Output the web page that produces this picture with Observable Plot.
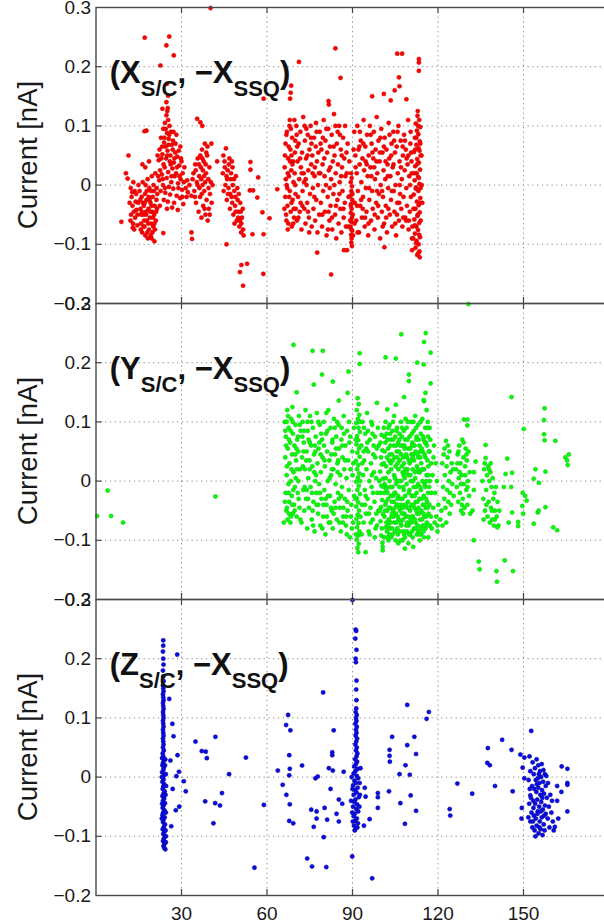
<!DOCTYPE html>
<html><head><meta charset="utf-8">
<script src="https://cdn.jsdelivr.net/npm/d3@7"></script>
<script src="https://cdn.jsdelivr.net/npm/@observablehq/plot@0.6"></script>
<style>
html,body{margin:0;padding:0;background:#fff;overflow:hidden;}
#wrap{position:relative;width:604px;height:923px;overflow:hidden;}
#wrap svg{position:absolute;left:0;}
</style></head><body><div id="wrap"></div>
<script>
const xTicks=[30,60,90,120,150];
const yTicks=[-0.2,-0.1,0,0.1,0.2,0.3];
const gridY=[-0.1,0,0.1,0.2];
const panelVars=["X","Y","Z"];
const yLabel="Current [nA]";

const redPts=[
[8.9,-.062],[10.5,.02],[11.4,.05],[11.1,.011],[12.2,-.005],[12.5,-.02],[12.8,-.035],[12.3,-.05],[13,-.065],[13.4,-.075],[13.1,.005],[13.6,-.01],[13.9,-.028],[14.2,-.042],[13.7,-.055],[14.5,-.068],[14.8,-.03],[12.7,-.012],[13.3,-.045],[14.1,-.015],[12.9,-.072],[14.6,-.05],[11.8,-.03],[12.1,-.06],
[15.3,-.01],[15.6,-.04],[15.8,-.065],[16,-.02],[16.2,-.08],[16.4,.005],[16.6,-.05],[16.8,-.035],[17,-.07],[17.2,-.015],[17.3,-.085],[17.5,-.045],[17.7,-.025],[17.9,-.06],[18.1,.01],[18.2,-.09],[18.4,-.04],[18.6,-.075],[18.7,-.005],[18.9,-.055],[19.1,-.03],[19.2,-.085],[19.4,-.065],[19.6,.015],[19.7,-.045],[19.9,-.02],[20.1,-.07],[20.3,-.01],[20.4,-.05],[20.6,-.035],[20.8,.02],[21,-.06],[21.2,-.025],[21.4,-.04],[15.9,-.05],[16.9,-.06],[17.8,-.01],[18.8,-.025],[19.8,-.08],[20.7,-.075],[16.5,-.03],[17.4,0],[18.3,-.065],[19.3,-.01],[20.2,0],[15.5,-.025],[16.7,-.07],[17.6,-.05],[18.5,-.02],[19.5,-.035],[20.5,-.065],[21.3,-.005],[16.1,-.045],[17.1,-.03],[18,-.08],[19,-.045],[20,-.055],[21.1,-.045],[15.7,-.075],[21.5,-.015],[17.3,.03],[16.3,.035],[18.6,.04],[14.9,0],[20.5,-.095],[19.5,-.09],
[24.7,.118],[25.3,.11],[24.2,.105],[25.8,.1],[23.6,.095],[26.3,.09],[24.9,.088],[22.8,.08],[25.5,.078],[27,.075],[23.9,.072],[26.6,.068],[24.4,.065],[22.3,.06],[25.1,.058],[27.8,.055],[23.3,.052],[26.1,.05],[28.5,.048],[24.6,.045],[22,.042],[25.9,.04],[27.3,.038],[23.7,.035],[29.2,.033],[24.1,.03],[26.8,.028],[22.5,.025],[25.3,.022],[28.1,.02],[23.1,.018],[27.6,.015],[24.8,.012],[29.7,.01],[22.2,.008],[26.4,.005],[28.8,.003],[23.5,0],[25.6,-.003],[27.1,-.006],[30.2,-.008],[22.7,-.01],[24.3,-.013],[26,-.016],[28.3,-.018],[29.5,-.022],[23.8,-.025],[25.2,-.028],[27.4,-.03],[30.6,-.032],[22.4,-.035],[24.9,-.04],[26.7,-.038],[28.7,-.042],
[23.2,.065],[24,.08],[25.7,.085],[26.9,.06],[27.9,.07],[28.4,.03],[29,.058],[29.8,.045],[30.4,.02],[30.8,.005],[31,.03],[22.9,.045],[24.5,.095],[25.4,.068],[26.2,.035],[27.5,.045],[28.9,-.005],[29.3,.015],[30,.04],[23.4,.01],[24.2,-.005],[25,.05],[26.5,.015],[27.2,.09],[28.2,.085],[29.6,.065],[30.3,-.02],[21.8,.015],[21.6,.05],[25,.125],[25.2,.13],
[17.1,.249],[25.7,.251],[24.7,.236],[27.3,.219],[22.6,.202],[24.9,.171],[25.3,.151],[24.7,.14],[23.3,.129],[17.7,.092],[17,.091],[23.6,-.081],[33.5,-.08],[33.7,-.091],
[31.5,-.005],[32.2,-.012],[32.8,0],[33.4,-.018],[32,.008],[33.9,.01],[31.8,-.02],
[34.2,.02],[34.5,-.01],[34.8,.035],[35.1,-.03],[35.4,.005],[35.7,.045],[36,-.045],[36.2,.015],[36.5,-.02],[36.8,.03],[37,-.055],[37.2,.06],[37.4,0],[37.6,-.035],[37.8,.04],[38,-.01],[38.2,.07],[38.4,-.05],[38.6,.02],[38.8,-.025],[39,.05],[39.2,-.06],[39.4,.01],[39.6,-.04],[39.8,.03],[40,-.015],[40.3,.005],[40.6,-.03],[35,.025],[36.3,-.005],[37.5,.025],[38.5,.035],[39.5,-.005],[36.9,.01],[38.1,-.04],[35.6,0],[37.1,-.015],[39.1,.065],[38.7,.055],[37.9,.015],[36.6,.05],[34.7,-.02],[40.9,0],[39.9,-.05],[38.3,.005],[37.3,.045],[36.1,.035],
[35.5,.112],[36.6,.106],[37.3,.1],[40.5,.07],[42.5,.04],[40.2,.299],
[44.5,.02],[44.8,-.01],[45.1,.04],[45.4,0],[45.6,.062],[45.9,-.025],[46.2,.025],[46.5,-.005],[46.8,.045],[47,-.04],[47.3,.01],[47.6,-.02],[47.9,.03],[48.2,-.05],[48.5,-.01],[48.8,-.035],[49.1,.015],[49.4,-.06],[49.7,-.025],[50,-.045],[50.3,-.07],[50.6,-.03],[50.9,-.08],[51.2,-.055],[51.5,-.04],[51.8,-.085],[45.2,.03],[46,.01],[47.1,-.015],[48,0],[49,-.045],[50.1,-.015],[51,-.065],[46.6,.035],[47.8,-.03],[48.9,-.02],[49.9,-.055],[50.8,-.045],[44.7,.05],[45.8,.015],[47.4,.02],[48.6,-.065],[49.6,-.005],[51.6,-.075],[46.3,-.015],[47.7,.04],[48.4,.01],[50.5,-.06],
[45.8,-.1],[54.2,.039],[56.9,.013],[54,-.009],[55.1,-.009],[58.4,-.046],[51,-.135],[53,-.133],[50.5,-.147],[51.6,-.17],[58.7,-.15],[58.8,.146],[54.2,.026],[56.6,-.021],[54.9,-.083],[63.6,-.007],[60.9,-.056],[58.8,-.083],
[66.2,.03],[66.4,-.02],[66.5,.07],[66.7,-.05],[66.9,0],[67,.09],[67.2,-.035],[67.4,.045],[67.5,-.065],[67.7,.015],[67.9,.1],[68,-.01],[68.2,.06],[68.3,-.045],[68.5,.025],[68.7,-.07],[68.8,.08],[69,-.025],[69.1,.04],[69.3,.005],[69.5,-.055],[69.6,.11],[69.8,.055],[70,-.015],[66.3,.05],[66.8,-.06],[67.3,.02],[67.8,-.02],[68.4,.095],[68.9,.035],[69.4,-.04],[69.9,.075],[66.6,.01],[67.6,.065],[68.6,-.03],[69.7,.02],[67.1,-.005],[68.1,.04],
[70.3,.1],[70.5,-.06],[70.7,.04],[70.9,-.02],[71.1,.07],[71.3,.01],[71.5,-.045],[71.7,.09],[71.9,.03],[72.1,-.075],[72.3,.055],[72.5,-.01],[72.7,.115],[72.9,.02],[73.1,-.04],[73.3,.075],[73.5,-.065],[73.7,.045],[73.9,0],[74.1,-.03],[74.3,.085],[74.5,.025],[74.7,-.055],[74.9,.06],[75.1,-.015],[75.3,.1],[75.5,.035],[75.7,-.07],[75.9,.05],[76.1,-.005],[76.3,-.04],[76.5,.08],[76.7,.015],[76.9,-.06],[77.1,.065],[77.3,-.025],[77.5,.04],[77.7,-.08],[77.9,0],[70.6,.065],[71.8,-.03],[73,.005],[74.4,-.045],[75.6,.07],[76.8,.03],[72.2,.02],[73.8,.095],[77.2,.105],[70.1,-.04],[78,.055],
[71.2,.208],[68.5,.168],[68.3,.156],[68.1,.146],[77.6,-.114],
[78.3,-.05],[78.5,.09],[78.7,.02],[78.9,-.03],[79.1,.06],[79.3,-.07],[79.5,.035],[79.7,-.01],[79.9,.11],[80.1,.045],[80.3,-.045],[80.5,.075],[80.7,0],[80.9,-.085],[81.1,.055],[81.3,-.02],[81.5,.095],[81.7,.025],[81.9,-.06],[82.1,.065],[82.3,-.035],[82.5,.01],[82.7,.085],[82.9,-.075],[83.1,.04],[83.3,-.015],[83.5,.12],[83.7,.05],[83.9,-.05],[84.1,.02],[84.3,-.09],[84.5,.07],[84.7,-.025],[84.9,.035],[85.1,-.065],[85.3,.1],[85.5,.005],[85.7,-.04],[85.9,.06],[86.1,-.08],[86.3,.03],[86.5,-.01],[86.7,.08],[86.9,-.055],[87.1,.045],[87.3,-.03],[87.5,.015],[87.7,-.07],[87.9,.055],[79.6,.08],[81.6,-.045],[83.6,0],[85.6,.085],[82,-.005],[84,.1],[86,.015],
[84,.231],[85.8,.181],[81.6,.142],[81.7,.136],[82.5,-.151],[87,-.11],[88.1,-.11],
[89.5,.02],[89.7,.012],[89.4,.005],[89.8,-.002],[89.6,-.01],[89.3,-.018],[89.9,-.025],[89.5,-.032],[89.7,-.04],[89.4,-.047],[89.8,-.055],[89.6,-.062],[89.3,-.07],[89.9,-.077],[89.5,-.084],[89.7,-.09],[89.6,-.097],[89.8,-.103],[89.4,-.035],[90.1,-.05],[89.2,-.06],[90,-.015],[89.6,-.075],[90.2,-.085],[88.3,.07],[88.6,-.02],[88.9,.04],[90.6,.09],[90.8,-.03],[91,.05],
[91.3,-.06],[91.5,.02],[91.7,.1],[91.9,-.01],[92.1,.06],[92.3,-.08],[92.5,.035],[92.7,-.035],[92.9,.075],[93.1,.005],[93.3,-.055],[93.5,.045],[93.7,-.02],[93.9,.11],[94.1,.025],[94.3,-.07],[94.5,.065],[94.7,-.005],[94.9,-.045],[95.1,.085],[95.3,.015],[95.5,-.085],[95.7,.05],[95.9,-.025],[96.1,.1],[96.3,.03],[96.5,-.06],[96.7,.07],[96.9,-.01],[97.1,-.04],[97.3,.045],[97.5,.09],[97.7,-.075],[97.9,.01],[98.1,.06],[98.3,-.03],[98.5,.115],[98.7,.02],[98.9,-.055],[99.1,.075],[99.3,-.015],[99.5,.04],[99.7,-.09],[99.9,0],[100.1,.095],[100.3,-.045],[100.5,.055],[100.7,-.02],[100.9,.025],[101.1,-.065],[101.3,.08],[101.5,.01],[101.7,-.035],[101.9,.06],[102.1,-.08],[102.3,.035],[102.5,-.005],[102.7,.105],[102.9,.045],[103.1,-.05],[103.3,.015],[103.5,-.025],[103.7,.07],[103.9,-.07],[104.1,.03],[104.3,.09],[104.5,-.01],[104.7,-.045],[104.9,.055],[105.1,0],[105.3,-.085],[105.5,.065],[105.7,-.03],[105.9,.02],[106.1,.1],[106.3,-.06],[106.5,.04],[106.7,-.015],[106.9,.075],[107.1,-.04],[107.3,.01],[107.5,-.07],[107.7,.05],[107.9,-.02],[108.1,.085],[108.3,.025],[108.5,-.055],[108.7,.06],[108.9,-.005],[109.1,-.035],[109.3,.035],[109.5,.11],[109.7,-.075],[109.9,.015],[110.1,-.045],[110.3,.07],[110.5,-.02],[110.7,.04],[110.9,-.09],
[110.2,0],[110.6,.055],[109.6,.05],[108.8,-.06],[107.6,.065],[106.6,0],[105.6,-.05],[104.6,.075],[103.6,.05],[102.6,-.04],[101.6,.04],[100.6,-.07],[99.6,.055],[98.6,-.01],[97.6,.03],[96.6,.015],[95.6,-.065],[94.6,.04],[93.6,-.04],[92.6,.09],[91.6,-.035],
[66.1,-.04],[66.8,.085],[67.3,-.075],[68,.11],[68.6,.05],[69.2,-.065],[69.9,0],[70.4,.085],[71,-.055],[71.6,.045],[72.4,-.035],[73.2,.1],[73.6,.01],[74.2,.05],[74.8,-.08],[75.4,.08],[76,.02],[76.6,-.02],[77.4,.09],[78.2,.02],[78.8,.07],[79.4,-.05],[80.2,.015],[80.8,.095],[81.4,-.075],[82.2,.03],[82.8,-.055],[83.4,.065],[84.2,-.035],[84.8,.09],[85.4,-.015],[86.2,.05],[86.8,-.04],[87.4,.1],[88,.02],[88.5,-.07],[90.4,.06],[90.7,-.065],[91.1,.03],[91.8,-.08],[92.4,.065],[93,-.025],[93.8,.07],[94.4,-.055],[95,.035],[95.8,-.005],[96.4,.085],[97,.055],[97.8,-.05],[98.4,.04],[99,-.035],[99.8,.08],[100.4,-.01],[101,.065],[101.8,-.055],[102.4,.015],[103,.085],[103.8,-.01],[104.4,.035],[105,-.065],[105.8,.09],[106.4,-.03],[107,.03],[107.8,-.055],[108.4,.075],[109,.045],[109.8,-.06],[110.4,.09],[110.8,.02],[111,-.07],
[96.9,.15],[103.4,.143],[101,.154],[104.8,.16],[106.5,.167],[105.7,.222],[107.4,.222],[101.2,-.105],[110.9,-.11],[108.9,.145],[106.3,.182],
[112.8,.117],[113.4,.11],[112.2,.104],[113.8,.098],[112.6,.092],[113.1,.086],[111.9,.08],[113.6,.074],[112.4,.068],[113.2,.062],[111.6,.056],[113.9,.05],[112.7,.044],[113.3,.038],[112,.032],[113.7,.026],[112.5,.02],[113,.014],[111.8,.008],[113.5,.002],[112.3,-.004],[113.1,-.01],[111.5,-.016],[113.8,-.022],[112.6,-.028],[113.2,-.034],[112.1,-.04],[113.6,-.046],[112.8,-.052],[111.7,-.058],[113.4,-.064],[112.4,-.07],[113,-.076],[111.9,-.082],[113.7,-.088],[112.5,-.094],[113.2,-.1],[112.1,-.106],[113.5,-.112],[112.7,-.118],[113.6,-.122],
[113,.1],[112.4,.08],[113.5,.058],[112.8,.036],[113.3,.012],[112.2,-.006],[113.6,-.03],[112.9,-.05],[111.9,-.068],[113.4,-.084],[112.3,-.098],[113.1,-.115],[112,.06],[113.8,.07],[111.6,.02],[113.9,-.005],[111.4,-.04],[113.9,-.06],[111.3,-.09],[112.9,.125],
[113.3,.213],[113.3,.207],[113.3,.193],[114.3,0],[114.5,-.03],[114.2,.05]
];

const greenPts=[
[.4,-.059],[4.1,-.016],[5.3,-.059],[9.5,-.07],[41.9,-.026],[65.9,-.07],
[66.2,.1],[66.4,.04],[66.5,-.02],[66.6,.075],[66.8,-.05],[66.9,.01],[67.1,.12],[67.2,-.065],[67.3,.055],[67.5,-.005],[67.6,.09],[67.8,-.035],[67.9,.03],[68.1,.065],[68.2,-.07],[68.4,0],[68.5,.105],[68.7,-.025],[68.8,.045],[69,-.055],[69.1,.08],[69.3,.015],[69.5,-.04],[69.6,.06],[69.8,-.01],[70,.095],[70.2,.035],[70.4,-.06],[70.6,.07],[70.8,-.02],[71,.05],[71.2,.11],[71.4,-.045],[71.6,.02],[71.8,.085],[66.3,-.035],[67,.025],[67.7,-.055],[68.3,.085],[69.2,-.015],[70.1,.005],[71.1,-.03],[66.7,.06],[68.6,.02],[69.9,.045],[70.9,.075],[67.4,.11],[68.9,.125],
[72.1,-.07],[72.3,.04],[72.5,.1],[72.7,-.015],[72.9,.065],[73.1,-.05],[73.3,.02],[73.5,.12],[73.7,-.03],[73.9,.05],[74.1,-.08],[74.3,.085],[74.5,.005],[74.7,-.045],[74.9,.035],[75.1,.11],[75.3,-.01],[75.5,.06],[75.7,-.065],[75.9,.025],[76.1,.09],[76.3,-.035],[76.5,.045],[76.7,-.085],[76.9,0],[77.1,.075],[77.3,-.02],[77.5,.115],[77.7,.03],[77.9,-.055],[78.1,.055],[78.3,-.005],[78.5,.095],[78.7,-.075],[78.9,.015],[79.1,-.03],[79.3,.07],[79.5,.04],[79.7,-.06],[79.9,.1],[80.1,-.015],[80.3,.025],[80.5,-.09],[80.7,.08],[80.9,-.04],[81.1,.05],[81.3,0],[81.5,.12],[81.7,-.07],[81.9,.035],[82.1,-.025],[82.3,.09],[82.5,.01],[82.7,-.05],[82.9,.065],[83.1,-.08],[83.3,.02],[83.5,.105],[83.7,-.035],[83.9,.045],[84.1,-.005],[84.3,.075],[84.5,-.065],[84.7,.03],[84.9,-.02],[85.1,.095],[85.3,.055],[85.5,-.045],[85.7,.01],[85.9,-.085],[86.1,.07],[86.3,-.01],[86.5,.04],[86.7,-.06],[86.9,.11],[87.1,.02],[87.3,-.03],[87.5,.06],[87.7,-.075],[87.9,.005],[88.1,.085],[88.3,-.05],[88.5,.035],[88.7,-.015],[88.9,.065],[89.1,-.095],[89.3,.02],[89.6,-.04],[89.9,.05],[90.2,-.07],[90.5,.09],
[73,.085],[74,-.015],[75,.02],[76,-.05],[77,.05],[78,-.04],[79,.08],[80,.06],[81,-.06],[82,.005],[83,.07],[84,-.045],[85,.035],[86,-.025],[87,.08],[88,-.09],[72.6,.025],[74.6,.07],[76.6,.015],[78.6,-.02],[80.6,-.03],[82.6,.045],[84.6,.1],[86.6,-.07],
[66.4,.085],[67,-.045],[67.7,.07],[68.4,-.06],[69,.1],[69.7,-.05],[70.3,.055],[71,0],[71.7,-.065],[72.4,.075],[73.2,-.01],[73.8,.035],[74.4,-.03],[75,.065],[75.6,.1],[76.2,-.075],[76.8,.06],[77.4,-.04],[78,.1],[78.8,.045],[79.4,-.08],[80.2,.035],[80.8,.115],[81.4,-.025],[82.2,-.07],[82.8,.02],[83.4,-.055],[84.2,.055],[84.8,.015],[85.4,-.07],[86.2,.09],[86.8,-.045],[87.4,.035],[88.2,-.035],[88.8,.1],[89.4,-.06],[90,.01],[90.6,-.025],[93.2,-.09],[93.9,.05],[94.6,-.025],[95.2,.065],[95.8,-.055],[96.6,.1],[97.2,-.02],[98,.04],[98.6,-.075],[99.2,.06],[99.4,0],[97,.08],[94,.09],[96,-.09],
[66.9,.1],[67.6,-.02],[68.8,-.04],[70.5,.02],[71.5,.095],[72.8,.05],[74.2,.1],[75.8,-.02],[77.2,.01],[78.4,.065],[79.8,-.04],[81.2,.085],[82.4,-.045],[83.8,.09],[85.2,-.03],[86.4,.06],[87.8,-.06],[89.2,.075],[89.8,-.08],[90.3,.03],
[91.8,.14],[92.2,.13],[91.5,.12],[92.4,.112],[91.9,.105],[91.3,.098],[92.1,.09],[92.6,.083],[91.6,.076],[92,.069],[91.4,.062],[92.3,.055],[91.7,.048],[92.5,.041],[91.2,.034],[92,.027],[91.6,.02],[92.4,.013],[91.9,.006],[91.3,-.001],[92.2,-.008],[91.7,-.015],[92.6,-.022],[91.5,-.029],[92,-.036],[91.3,-.043],[92.3,-.05],[91.8,-.057],[91.4,-.064],[92.1,-.071],[91.6,-.078],[92.4,-.085],[91.9,-.092],[91.5,-.099],[92.2,-.106],[91.7,-.113],[92,-.12],[91.1,.07],[92.7,0],[91,-.03],[92.8,-.06],[91.2,-.09],[92.5,.1],
[93.1,.06],[93.3,-.04],[93.5,.1],[93.7,.01],[93.9,-.07],[94.1,.035],[94.3,-.015],[94.5,.08],[94.7,-.055],[94.9,.02],[95.1,.115],[95.3,-.03],[95.5,.05],[95.7,-.085],[95.9,0],[96.1,.07],[96.3,-.045],[96.5,.03],[96.7,-.01],[96.9,.095],[97.1,-.065],[97.3,.045],[97.5,.015],[97.7,-.035],[97.9,.075],[98.1,-.08],[98.3,.005],[98.5,.055],[98.7,-.02],[98.9,.09],[99.1,-.05],[93.4,.03],[94.4,-.04],[95.4,.085],[96.4,-.07],[97.4,.06],[98.4,-.055],[94.8,.055],[96.8,.01],[97.8,-.095],
[100.2,.078],[99.8,.065],[100.5,.052],[100,.04],[100.3,.028],[99.7,.016],[100.6,.004],[100.1,-.008],[99.9,-.02],[100.4,-.032],[100,-.044],[100.7,-.056],[99.8,-.068],[100.3,-.08],[100.1,-.092],[100.5,-.104],[100.6,-.117],[99.6,-.05],[100.8,-.01],
[101,.09],[101,.03],[101.1,-.02],[101.2,-.06],[101.1,-.095],[101.5,.065],[101.6,.005],[101.5,-.04],[101.7,-.078],[101.6,.1],[102,.08],[102.1,.04],[102,-.01],[102.2,-.05],[102.1,-.085],[102.5,.055],[102.6,.015],[102.5,-.03],[102.7,-.065],[102.6,-.1],[103,.095],[103.1,.045],[103,0],[103.2,-.045],[103.1,-.08],[103.5,.07],[103.6,.02],[103.5,-.025],[103.7,-.06],[103.6,-.095],[104,.085],[104.1,.035],[104,-.01],[104.2,-.05],[104.1,-.09],[104.5,.06],[104.6,.01],[104.5,-.035],[104.7,-.07],[104.6,.11],[105,.075],[105.1,.025],[105,-.02],[105.2,-.055],[105.1,-.1],[105.5,.05],[105.6,0],[105.5,-.04],[105.7,-.08],[105.6,.09],[106,.065],[106.1,.02],[106,-.025],[106.2,-.065],[106.1,-.105],[106.5,.08],[106.6,.035],[106.5,-.01],[106.7,-.05],[106.6,-.085],[107,.1],[107.1,.045],[107,0],[107.2,-.04],[107.1,-.075],[107.5,.06],[107.6,.015],[107.5,-.03],[107.7,-.065],[107.6,-.1],[108,.085],[108.1,.03],[108,-.015],[108.2,-.055],[108.1,-.09],[108.5,.07],[108.6,.02],[108.5,-.025],[108.7,-.06],[108.6,.105],[109,.09],[109.1,.04],[109,-.005],[109.2,-.045],[109.1,-.085],[109.5,.055],[109.6,.01],[109.5,-.035],[109.7,-.075],[109.6,-.105],[110,.075],[110.1,.03],[110,-.015],[110.2,-.05],[110.1,-.09],[110.5,.1],[110.6,.045],[110.5,0],[110.7,-.04],[110.6,-.07],[111,.065],[111.1,.02],[111,-.025],[111.2,-.06],[111.1,-.095],[111.5,.085],[111.6,.035],[111.5,-.01],[111.7,-.045],[111.6,-.08],[112,.11],[112.1,.05],[112,.005],[112.2,-.035],[112.1,-.07],[112.5,.075],[112.6,.025],[112.5,-.02],[112.7,-.055],[112.6,-.09],[113,.095],[113.1,.04],[113,-.005],[113.2,-.045],[113.1,-.085],[113.5,.06],[113.6,.015],[113.5,-.03],[113.7,-.065],[113.6,-.1],[114,.08],[114.1,.03],[114,-.015],[114.2,-.05],[114.1,-.09],[114.5,.105],[114.6,.05],[114.5,0],[114.7,-.04],[114.6,-.075],[115,.07],[115.1,.02],[115,-.025],[115.2,-.06],[115.1,-.095],[115.5,.09],[115.6,.04],[115.5,-.01],[115.7,-.045],[115.6,-.08],[116,.12],[116.1,.06],[116,.01],[116.2,-.035],[116.1,-.07],[116.5,.075],[116.6,.025],[116.5,-.02],[116.7,-.055],[116.6,-.095],[117,.05],[117.1,0],[117,-.04],[117.2,-.075],[117.1,.09],[117.6,.03],[117.7,-.02],[117.5,-.06],[118.1,.01],[118.3,-.045],[118.6,.06],[119,-.02],[119.4,-.06],[119.2,.03],[119.8,-.075],[120.1,-.04],
[101.3,.05],[101.3,-.005],[101.4,-.05],[101.8,.025],[101.8,-.035],[101.9,-.07],[102.3,.07],[102.3,-.02],[102.4,-.075],[102.8,.035],[102.8,-.045],[102.9,-.09],[103.3,.06],[103.3,-.01],[103.4,-.07],[103.8,.045],[103.8,-.035],[103.9,-.08],[104.3,.07],[104.3,-.025],[104.4,-.06],[104.8,.04],[104.8,-.045],[104.9,-.085],[105.3,.06],[105.3,-.005],[105.4,-.07],[105.8,.03],[105.8,-.03],[105.9,-.09],[106.3,.05],[106.3,0],[106.4,-.045],[106.8,.06],[106.8,-.03],[106.9,-.07],[107.3,.075],[107.3,.025],[107.4,-.055],[107.8,.04],[107.8,-.01],[107.9,-.085],[108.3,.055],[108.3,.005],[108.4,-.04],[108.8,.045],[108.8,-.04],[108.9,-.075],[109.3,.07],[109.3,.02],[109.4,-.06],[109.8,.035],[109.8,-.02],[109.9,-.09],[110.3,.055],[110.3,.01],[110.4,-.065],[110.8,.08],[110.8,-.025],[110.9,-.085],[111.3,.045],[111.3,0],[111.4,-.04],[111.8,.06],[111.8,-.025],[111.9,-.065],[112.3,.09],[112.3,-.01],[112.4,-.05],[112.8,.045],[112.8,-.035],[112.9,-.075],[113.3,.07],[113.3,.015],[113.4,-.055],[113.8,.04],[113.8,-.01],[113.9,-.08],[114.3,.055],[114.3,-.03],[114.4,-.065],[114.8,.075],[114.8,.02],[114.9,-.055],[115.3,.045],[115.3,-.005],[115.4,-.075],[115.8,.065],[115.8,-.03],[115.9,-.06],[116.3,.09],[116.3,.035],[116.4,-.045],[116.8,.05],[116.8,-.075],
[101.2,.075],[101.9,-.015],[102.6,.09],[102.2,-.095],[103.4,.03],[103.9,-.055],[104.2,.1],[104.9,.005],[105.4,.085],[105.9,-.06],[106.4,.07],[106.9,-.1],[107.4,.09],[107.9,.01],[108.4,-.095],[108.9,.015],[109.4,.1],[109.9,-.045],[110.4,.035],[110.9,.06],[111.4,.1],[111.9,.015],[112.4,.07],[112.9,.02],[113.4,-.09],[113.9,.1],[114.4,.02],[114.9,-.085],[115.4,.065],[115.9,0],[116.4,.1],[116.9,-.01],[117.3,.07],[117.8,-.08],[118.4,.04],[118.8,-.07],[119.6,0],[104.7,-.02],[106.2,-.04],[107.7,-.045],[109.2,-.07],[110.7,-.06],[112.2,-.08],[113.7,.05],[115.2,-.04],[116.7,.01],[103.2,.08],[105.7,.04],[108.2,.06],[111.2,.04],
[69.3,.23],[76,.22],[79.6,.22],[92.5,.216],[92.5,.198],[101.6,.209],[105.2,.207],[107.1,.248],[115.7,.25],[115.1,.235],[117.4,.217],[112.7,.2],[109.8,.18],[109.8,.169],[79.3,.18],[88.6,.185],[83.1,.168],[70.4,.15],[76.4,.163],[85.2,.136],[88.3,.149],[98.6,.132],[102.2,.121],[105.2,.129],[108.1,.142],[115.1,.135],[115,.197],[117.4,.165],[115.6,.149],[115,.137],[130.7,.299],
[94.6,-.12],[100.6,-.111],[108.4,-.114],[111.3,-.111],
[121.5,.03],[121.8,-.01],[122,.045],[122.2,-.03],[122.4,.01],[122.6,-.045],[122.8,.068],[123,.025],[123.2,-.015],[123.4,.04],[123.6,-.035],[123.8,0],[124,.05],[124.2,-.02],[124.4,.015],[124.6,-.04],[124.8,.03],[125,-.005],[125.3,.02],[125.5,-.025],[121.2,-.05],[120.8,-.065],[121.6,-.075],[122.9,-.07],[119.8,-.085],[122.3,.055],[123.5,.06],[124.1,-.055],
[126.3,.02],[126.6,-.01],[126.9,.045],[127.1,-.035],[127.3,.005],[127.5,.06],[127.7,-.02],[127.9,.03],[128.1,-.05],[128.3,.01],[128.5,.07],[128.7,-.03],[128.9,.04],[129.1,-.005],[129.3,-.045],[129.5,.025],[129.7,.055],[129.9,-.015],[130.1,.035],[130.3,-.04],[130.5,0],[130.7,.05],[130.9,-.025],[131.1,.015],[131.3,-.055],[127.2,.05],[128,-.005],[128.8,-.055],[129.6,.01],[130.4,-.01],[126.8,.03],[129,.065],[130,.045],[128.4,-.04],[127.6,.015],
[129.1,.104],[130.3,.104],[130.3,.094],[132.6,-.1],[133.2,.033],[132.6,.015],[132.6,-.015],[132.1,-.05],
[135.6,0],[135.9,-.03],[136.2,.02],[136.5,-.05],[136.7,.039],[136.9,-.015],[137.2,.01],[137.4,-.06],[137.6,.025],[137.8,-.035],[138,0],[138.2,-.07],[138.4,.015],[138.6,-.045],[138.8,-.01],[139,-.065],[139.2,.005],[139.4,-.03],[139.6,-.075],[139.8,-.02],[140,-.05],[140.3,-.01],[140.6,-.06],[140.9,-.035],[141.2,-.075],[141.5,-.05],[136.4,.03],[137,-.04],[137.9,.02],[138.9,-.05],[139.9,-.065],[140.8,-.078],[136,-.065],[138.5,.03],
[136.7,.061],[145.8,.142],[144.3,.038],[146,.014],[143.7,.012],[143.1,-.01],[145.7,-.01],[146,-.053],[144.8,-.07],[148.1,-.069],[148.1,-.076],[150.1,.088],[149.7,-.02],[150.6,-.025],[151.1,-.033],[149.6,-.042],[149.9,-.055],[154.2,.02],[153.6,.004],[155.4,-.003],[155,-.053],[155.3,-.05],[153.6,-.072],[157.4,.123],[157.2,.103],[157.2,.079],[157.4,.069],[161.2,.068],[157.7,.016],[157.7,-.044],[160.4,-.078],[161.8,-.083],[164.7,.04],[165.9,.045],[165.3,.035],[165.5,.027],
[134.3,-.136],[134.6,-.149],[140.5,-.152],[140.7,-.17],[143.4,-.134],[146.3,-.152]
];

const bluePts=[
[23.6,.231],[23.6,.222],[23.5,.212],[23.6,.2],[23.7,.19],[23.5,.18],[23.6,.17],[23.7,.162],[23.5,.155],
[23.6,.15],[23.7,.145],[23.5,.14],[23.6,.135],[23.7,.13],[23.5,.125],[23.6,.12],[23.7,.115],[23.5,.11],[23.6,.105],[23.7,.1],[23.5,.095],[23.6,.09],[23.7,.085],[23.5,.08],[23.6,.075],[23.7,.07],[23.5,.065],[23.6,.06],[23.7,.055],[23.5,.05],[23.8,.045],[23.4,.04],[23.6,.035],[23.2,.032],[23.9,.028],[23.5,.024],[23.3,.02],[23.8,.016],[23.6,.012],[23.2,.008],[24,.004],[23.5,0],[23.7,-.004],[23.3,-.008],[23.9,-.012],[23.6,-.016],[23.4,-.02],[24.1,-.024],[23.7,-.028],[23.3,-.032],[23.9,-.036],[23.5,-.04],[24.2,-.044],[23.7,-.048],[23.4,-.052],[24,-.056],[23.6,-.06],[23.3,-.064],[24.1,-.068],[23.7,-.072],[23.5,-.076],[24.2,-.08],[23.8,-.084],[23.4,-.088],[24,-.092],[23.6,-.096],[24.3,-.1],[23.8,-.104],[23.5,-.108],[24.1,-.112],[23.7,-.116],[24.3,-.122],[23.9,-.119],[24.5,-.11],[24.4,-.09],[23.1,-.07],[24.5,-.06],[23.2,-.045],[24.4,-.03],[24.5,.005],[24.3,.03],[23.1,0],[24.6,-.015],[24.5,-.1],[24.2,.02],
[28.5,.207],[25.7,.132],[26.8,.09],[27.2,.069],[34.9,.06],[41.9,.068],[37.1,.044],[38.5,.043],[38.9,.032],[52.6,.033],[28.6,.037],[26.1,.028],[29.1,.009],[28.2,.0015],[30.8,-.007],[31.5,-.024],[26.9,-.02],[46.7,.005],[44.2,-.027],[38.3,-.041],[41.8,-.044],[43.5,-.048],[29.2,-.05],[28,-.056],[58.9,-.047],[41.2,-.078],[26.4,-.083],[55.6,-.153],[63.8,.011],[65.5,-.013],[66.8,-.03],[67.4,.105],[66.7,.088],[68.2,.079],[67.8,.037],[68,.014],[67.8,.003],[68,-.046],[67.8,-.074],[69.2,-.078],
[72.3,.0196],[79.7,.143],[83.4,.079],[82.9,.042],[82.9,.037],[81.7,.015],[83.1,.011],[77,-.002],[77.8,.001],[82.3,-.02],[75.5,-.055],[77.4,-.058],[80.2,-.052],[85.2,-.038],[86.4,-.045],[84.4,-.062],[77.4,-.07],[81.1,-.072],[85.2,-.075],[76.4,-.084],[79.9,-.1015],[74.1,-.1375],[75.8,-.151],[80.8,-.152],[89.9,-.134],[96.9,-.171],[86.9,.009],[94.3,-.018],[94.6,-.033],[94,-.082],[96,-.071],[98.9,-.027],[98.9,-.034],[98.9,-.052],[102.8,-.024],[103,.046],[103,.036],[103.1,.026],[103.9,.068],[106.5,.005],[106.8,-.044],[109.2,.122],[109.2,.054],[108.6,.02],[110.1,.004],[110.4,-.031],[108.4,-.079],[111.7,.068],[112.3,.039],[112.3,-.057],[116,.0985],[116.8,.11],
[91.1,.249],[91.3,.247],[91,.234],[91.4,.215],[91.1,.2],[91.2,.194],[91.4,.163],[91.3,.148],[91.4,.13],[90,.299],
[91.3,.116],[91.1,.11],[91.5,.105],[91.2,.1],[91.4,.095],[91,.09],[91.5,.085],[91.2,.08],[91.4,.075],[91.1,.07],[91.6,.065],[91.3,.06],[91,.055],[91.5,.05],[91.2,.045],[91.7,.04],[91.4,.035],[90.9,.03],[91.6,.026],[91.2,.022],[90.6,.018],[91.8,.014],[91,.01],[90.4,.006],[91.5,.002],[92,-.002],[90.7,-.006],[91.2,-.01],[90.2,-.014],[91.8,-.018],[90.9,-.022],[91.4,-.026],[90.4,-.03],[92.2,-.034],[91,-.038],[90.6,-.042],[91.6,-.046],[90.2,-.05],[91.3,-.054],[92,-.058],[90.8,-.062],[90.4,-.066],[91.5,-.07],[90.9,-.074],[91.9,-.078],[90.5,-.082],[91.2,-.086],[90.8,-.09],[90,-.02],[89.9,-.06],[92.5,-.01],[92.4,-.05],[89.7,0],[92.6,-.03],[90.1,-.075],[91.7,-.085],[89.5,-.04],[92.8,.015],
[124.1,-.054],[124.3,-.065],[126.8,-.011],[132,-.028],[137.3,.024],[137.5,.049],[138.2,.02],[140,-.015],[142.5,.063],[145.8,.046],[146.2,-.024],[152.7,.078],[148.9,.038],[150.3,.033],[152.1,.035],[149.7,.016],[149.3,-.07],[151.7,-.068],[163.4,.018],[165.4,.014],[165.4,-.01],[165.4,-.013],[161.8,-.015],[163.3,-.025],[161.8,-.04],[165.4,-.058],[162.2,-.07],[161,-.084],[150.3,-.002],[152.4,-.031],[149.4,-.052],[152.4,-.075],
[153.2,.025],[154,.015],[154.6,.03],[155.2,.02],[155.8,.01],[156.4,.022],[153.6,.005],[154.3,-.005],[155,-.002],[155.6,-.01],[156.2,0],[156.9,-.008],[157.5,.005],[153,-.015],[153.8,-.02],[154.5,-.025],[155.2,-.018],[155.9,-.03],[156.5,-.022],[157.2,-.028],[157.8,-.015],[152.6,-.035],[153.4,-.04],[154.1,-.045],[154.8,-.038],[155.5,-.05],[156.2,-.042],[156.8,-.055],[157.5,-.048],[158.2,-.035],[152.8,-.06],[153.6,-.065],[154.3,-.07],[155,-.058],[155.7,-.075],[156.4,-.068],[157.1,-.08],[157.8,-.062],[158.5,-.07],[153.1,-.085],[153.9,-.09],[154.6,-.082],[155.3,-.095],[156,-.088],[156.7,-.098],[157.4,-.09],[154.2,-.1],[155.6,-.085],[158.9,-.05],[159.4,-.03],[159.8,-.06],[160.3,-.075],[158.6,-.01],[152.2,-.02],[151.8,-.005],[152.4,.01],[157,.012],[158,.002],[159.1,-.085],[160,-.04],[153.5,-.052],[154.9,-.062],[156.1,-.058],[157.3,-.065],[155.4,.005],[154.7,-.012],[156.6,-.035],[153.3,-.075],[152,-.045],[160.6,-.09]
];

const panels=[
  {pts:redPts, fill:"#ff0000", stroke:"#c40000"},
  {pts:greenPts, fill:"#00ff00", stroke:"#1fb81f"},
  {pts:bluePts, fill:"#0a0aee", stroke:"#000080"}
];

const W=620, ML=95.5, FW=513, FH=296, MT=7;
const font="'Liberation Sans', Arial, Helvetica, sans-serif";
const fmtY=d=>d===0?"0":d3.format(".1f")(d);
const labelAt=[5,0.172];
const wrap=document.getElementById("wrap");

panels.forEach((p,i)=>{
  const last=i===panels.length-1;
  const MB=last?28:10;
  const chart=Plot.plot({
    width:W, height:MT+FH+MB,
    marginLeft:ML, marginRight:W-ML-FW, marginTop:MT, marginBottom:MB,
    style:{fontFamily:font, fontSize:"19px", color:"#1a1a1a", background:"transparent", overflow:"visible", maxWidth:"none"},
    x:{domain:[0,180], ticks:xTicks, tickSize:0, tickPadding:11, axis:last?"bottom":null, label:null, tickFormat:d=>String(d)},
    y:{domain:[-0.2,0.3], ticks:yTicks, tickSize:0, tickPadding:5, tickFormat:fmtY, label:null},
    marks:[
      Plot.ruleX(xTicks,{x:d=>d, stroke:"#8c8c8c", strokeWidth:1, strokeDasharray:"1.3,3.5"}),
      Plot.ruleY(gridY,{y:d=>d, stroke:"#8c8c8c", strokeWidth:1, strokeDasharray:"1.3,3.5"}),
      Plot.dot(p.pts,{x:d=>d[0], y:d=>d[1], r:2.1, fill:p.fill, stroke:p.stroke, strokeWidth:0.5}),
      Plot.tickX(xTicks,{x:d=>d, insetBottom:FH-6, stroke:"#444", strokeWidth:1.2}),
      Plot.tickX(xTicks,{x:d=>d, insetTop:FH-6, stroke:"#444", strokeWidth:1.2}),
      Plot.tickY(gridY,{y:d=>d, insetRight:FW-6, stroke:"#444", strokeWidth:1.2}),
      Plot.frame({stroke:"#4a4a4a", strokeWidth:1.4})
    ]
  });
  chart.style.top=(i*FH)+"px";
  const sx=chart.scale("x"), sy=chart.scale("y");
  const svg=d3.select(chart);
  const cy=(sy.apply(0.3)+sy.apply(-0.2))/2;
  svg.append("text")
    .attr("transform",`translate(37,${cy}) rotate(-90)`)
    .attr("text-anchor","middle")
    .style("font-family",font).style("font-size","27.5px").attr("fill","#1a1a1a")
    .text(yLabel);
  const t=svg.append("text")
    .attr("x",sx.apply(labelAt[0])).attr("y",sy.apply(labelAt[1]))
    .attr("text-anchor","start")
    .style("font-family",font).attr("font-weight","bold").style("font-size","31px").attr("fill","#111");
  t.append("tspan").text("("+panelVars[i]);
  t.append("tspan").style("font-size","22px").attr("dy",13).text("S/C");
  t.append("tspan").attr("dy",-13).text(",\u00a0\u2212X");
  t.append("tspan").style("font-size","22px").attr("dy",13).text("SSQ");
  t.append("tspan").attr("dy",-13).text(")");
  wrap.appendChild(chart);
});
</script></body></html>
